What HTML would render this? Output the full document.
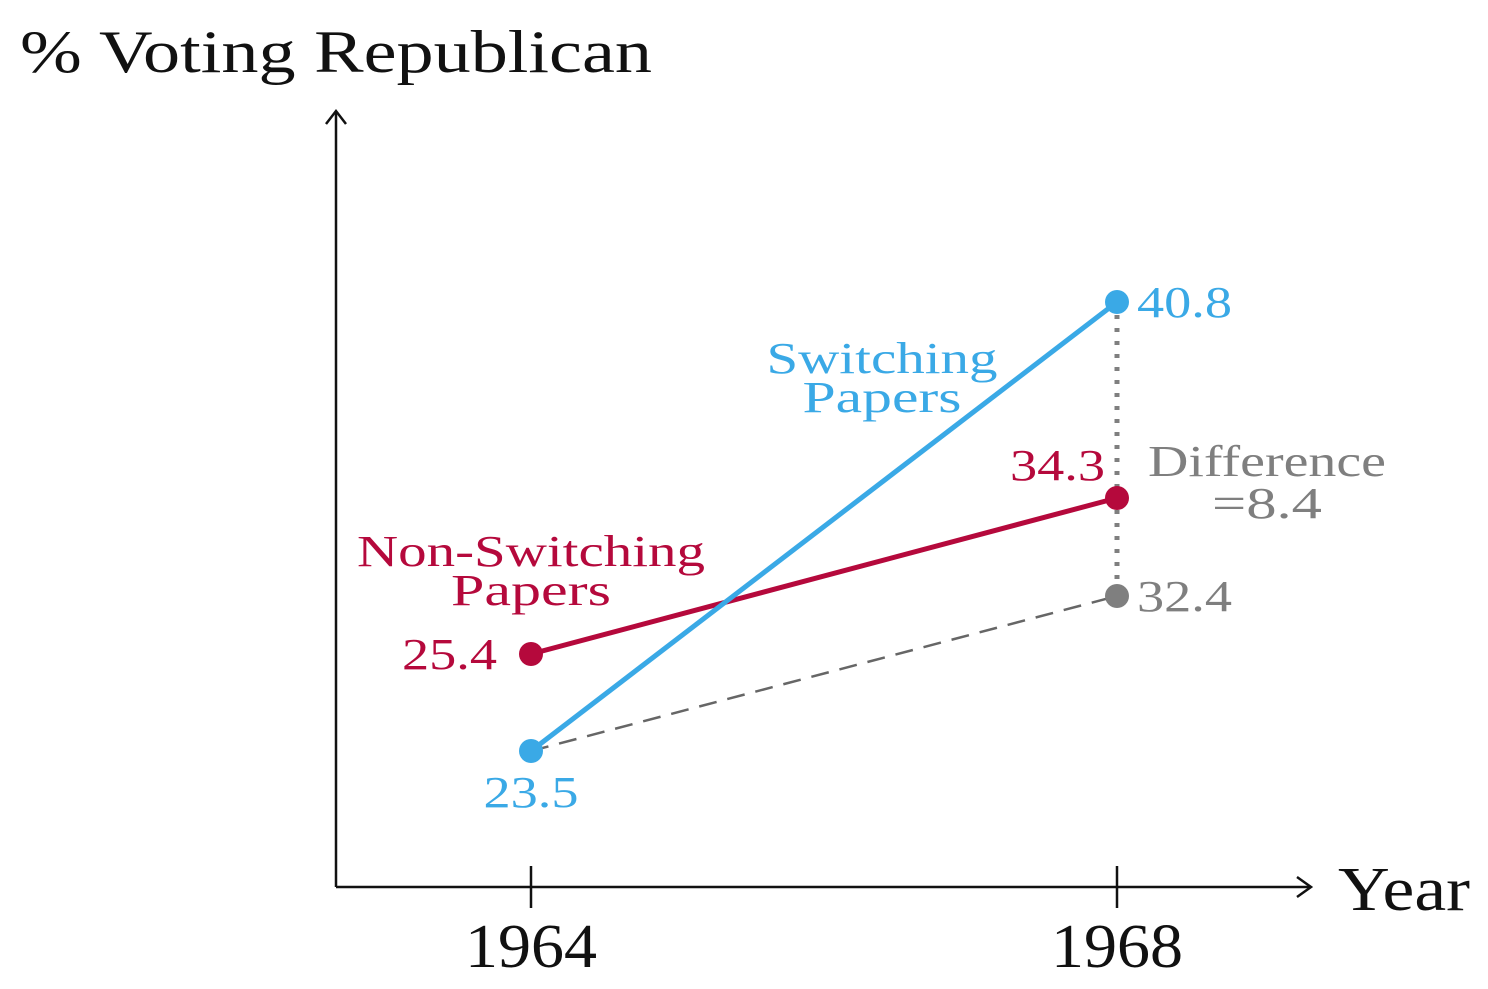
<!DOCTYPE html>
<html><head><meta charset="utf-8"><style>
html,body{margin:0;padding:0;background:#fff;}
svg{display:block;font-family:"Liberation Serif",serif;}
</style></head><body>
<svg id="chart" width="1488" height="989" viewBox="0 0 1488 989">
<text x="20" y="72" font-size="60" fill="#111" textLength="632" lengthAdjust="spacingAndGlyphs">% Voting Republican</text>
<line x1="336" y1="887" x2="336" y2="112" stroke="#111" stroke-width="2.5"/>
<path d="M326,124 L336,111 L346,124" fill="none" stroke="#111" stroke-width="2.5"/>
<line x1="336" y1="887" x2="1310" y2="887" stroke="#111" stroke-width="2.5"/>
<path d="M1297,877 L1311,887 L1297,897" fill="none" stroke="#111" stroke-width="2.5"/>
<text x="1338" y="910" font-size="62" fill="#111" textLength="132" lengthAdjust="spacingAndGlyphs">Year</text>
<g id="xticks"></g>
<g id="marks"></g>
</svg>
<script>
const years = [1964, 1968];
const switching = [23.5, 40.8];
const nonSwitching = [25.4, 34.3];
const counterfactual = [23.5, 32.4];
const tickLabels = ["1964", "1968"];
const difference = "8.4";

const NS = "http://www.w3.org/2000/svg";
function x(yr){ return 531 + (yr - 1964) * (1117 - 531) / 4; }
// schematic (piecewise) vertical scale as in the original figure
const yDom = [23.5, 25.4, 32.4, 34.3, 40.8];
const yRng = [751, 654, 596, 498, 302];
function y(v){
  if (v <= yDom[0]) return yRng[0] + (v - yDom[0]) * (yRng[1]-yRng[0])/(yDom[1]-yDom[0]);
  for (let i=0;i<yDom.length-1;i++){
    if (v <= yDom[i+1]) return yRng[i] + (v-yDom[i])*(yRng[i+1]-yRng[i])/(yDom[i+1]-yDom[i]);
  }
  const n=yDom.length-1;
  return yRng[n] + (v-yDom[n])*(yRng[n]-yRng[n-1])/(yDom[n]-yDom[n-1]);
}
function mk(tag, attrs, parent, text){
  const e=document.createElementNS(NS,tag);
  for (const k in attrs) e.setAttribute(k, attrs[k]);
  if (text!==undefined) e.textContent=text;
  parent.appendChild(e); return e;
}
function txt(attrs, parent, text, len){
  attrs.textLength = len;
  attrs.lengthAdjust = 'spacingAndGlyphs';
  return mk('text', attrs, parent, text);
}
const xt=document.getElementById('xticks');
years.forEach((yr,i)=>{
  const t=mk('line',{x1:x(yr),x2:x(yr),y1:866,y2:908,stroke:'#111','stroke-width':2.5},xt);
  
  
  const l=txt({x:x(yr),y:967,'font-size':62,'text-anchor':'middle',fill:'#111'},xt,tickLabels[i],132);
  
  
});
const g=document.getElementById('marks');
const BLUE='#3aa9e6', RED='#b5093c', GREY='#7f7f7f';
const d=mk('line',{x1:x(1968),x2:x(1968),y1:y(switching[1]),y2:y(counterfactual[1]),stroke:GREY,'stroke-width':5,'stroke-dasharray':'4 9'},g);


const cf=mk('line',{x1:x(1964),y1:y(counterfactual[0]),x2:x(1968),y2:y(counterfactual[1]),stroke:'#666','stroke-width':2.5,'stroke-dasharray':'18 11'},g);


const rl=mk('line',{x1:x(1964),y1:y(nonSwitching[0]),x2:x(1968),y2:y(nonSwitching[1]),stroke:RED,'stroke-width':5},g);


const bl=mk('line',{x1:x(1964),y1:y(switching[0]),x2:x(1968),y2:y(switching[1]),stroke:BLUE,'stroke-width':5},g);


const cp=mk('circle',{cx:x(1968),cy:y(counterfactual[1]),r:12,fill:GREY},g);


nonSwitching.forEach((v,i)=>{
  const c=mk('circle',{cx:x(years[i]),cy:y(v),r:12,fill:RED},g);
  
  
});
switching.forEach((v,i)=>{
  const c=mk('circle',{cx:x(years[i]),cy:y(v),r:12,fill:BLUE},g);
  
  
});
const FS=44;
let t;
t=txt({x:x(1964),y:y(switching[0])+56,'font-size':FS,'text-anchor':'middle',fill:BLUE},g,switching[0].toFixed(1),95);


t=txt({x:x(1968)+20,y:y(switching[1])+15,'font-size':FS,fill:BLUE},g,switching[1].toFixed(1),95);


t=txt({x:x(1964)-34,y:y(nonSwitching[0])+15,'font-size':FS,'text-anchor':'end',fill:RED},g,nonSwitching[0].toFixed(1),95);


t=txt({x:x(1968)-12,y:y(nonSwitching[1])-18,'font-size':FS,'text-anchor':'end',fill:RED},g,nonSwitching[1].toFixed(1),95);


t=txt({x:x(1968)+20,y:y(counterfactual[1])+15,'font-size':FS,fill:GREY},g,counterfactual[1].toFixed(1),95);


t=txt({x:1267,y:476,'font-size':FS,'text-anchor':'middle',fill:GREY},g,'Difference',238);


t=txt({x:1267,y:518,'font-size':FS,'text-anchor':'middle',fill:GREY},g,'='+difference,110);


t=txt({x:882,y:373,'font-size':FS,'text-anchor':'middle',fill:BLUE},g,'Switching',231);


t=txt({x:882,y:412,'font-size':FS,'text-anchor':'middle',fill:BLUE},g,'Papers',159);


t=txt({x:531,y:566,'font-size':FS,'text-anchor':'middle',fill:RED},g,'Non-Switching',348);


t=txt({x:531,y:605,'font-size':FS,'text-anchor':'middle',fill:RED},g,'Papers',160);


</script>
</body></html>
